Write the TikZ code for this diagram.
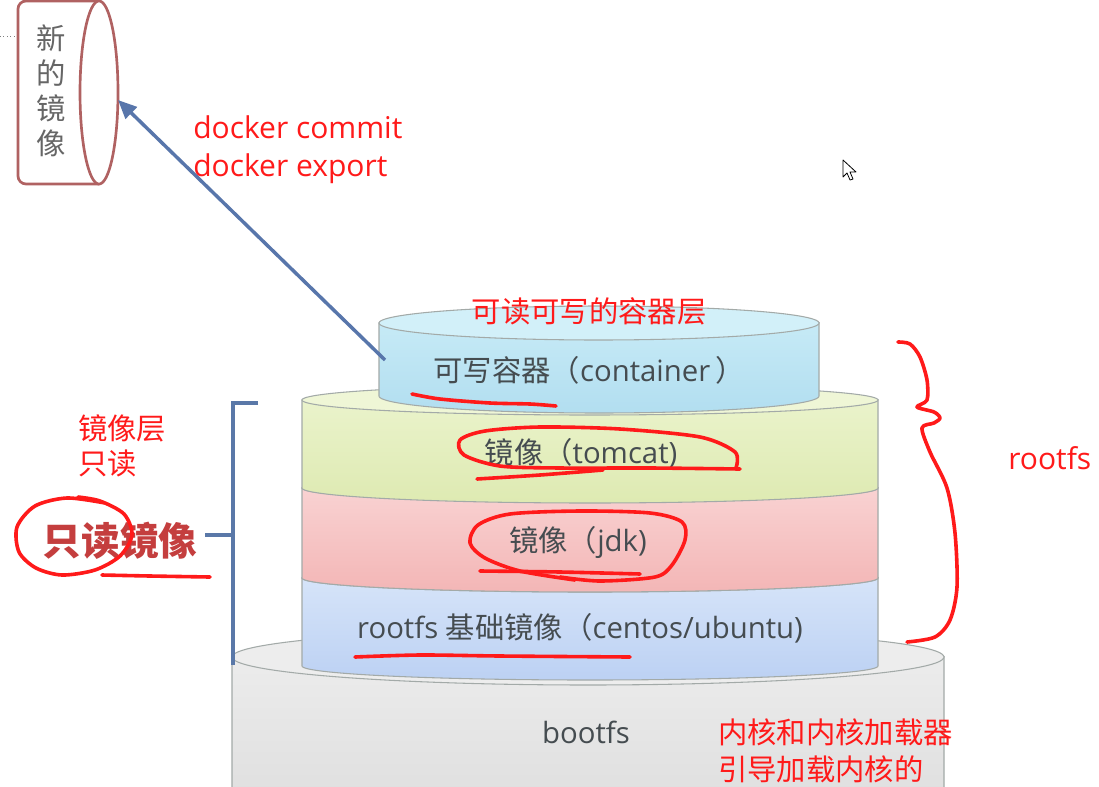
\documentclass[tikz,border=0pt]{standalone}
\usepackage{fontspec}
\setmainfont{Open Sans}
\newfontfamily\cjk{Noto Sans CJK SC}
\usetikzlibrary{arrows.meta}
\definecolor{redink}{HTML}{FF1A1A}
\definecolor{graytext}{HTML}{454C50}
\definecolor{edgecol}{HTML}{A3AAA8}
\definecolor{arrowblue}{HTML}{5876AB}
\definecolor{brackblue}{HTML}{5A78A8}
\definecolor{cylred}{HTML}{B06262}
\definecolor{boldred}{HTML}{C43E3E}
\newcommand\stacklayer[8]{%
  \definecolor{lyrtop}{HTML}{#6}%
  \definecolor{lyrbot}{HTML}{#7}%
  \definecolor{lyrell}{HTML}{#8}%
  \path[top color=lyrtop,bottom color=lyrbot,draw=edgecol,line width=0.8pt]
    ({#1-#2},#3) -- ({#1-#2},#4) -- plot[domain=0:180,samples=60] ({#1-#2*cos(\x)},{#4+#5*sin(\x)}) -- ({#1+#2},#3) -- cycle;
  \path[fill=lyrell,draw=edgecol,line width=0.8pt]
    plot[domain=0:360,samples=120] ({#1+#2*cos(\x)},{#3+#5*sin(\x)}) -- cycle;
}
\tikzset{
  lbl/.style={inner sep=0pt,text height=19.5pt,text depth=2.6pt},
  redlbl/.style={lbl,text=redink,font=\fontsize{22.5}{26}\selectfont},
  redcjk/.style={lbl,text=redink,font=\cjk\fontsize{22}{26}\selectfont},
  graylbl/.style={lbl,text=graytext,font=\fontsize{22}{26}\selectfont},
  ink/.style={draw=redink,line width=2.7pt,line cap=round,line join=round},
  arr/.style={draw=arrowblue,line width=2.6pt,-{Triangle[length=14pt,width=12pt]}},
  brack/.style={draw=brackblue,line width=2.8pt},
}
\begin{document}
\begin{tikzpicture}[x=0.75pt,y=-0.75pt]
\useasboundingbox (0,0) rectangle (1099,786);
\fill[white] (0,0) rectangle (1099,786);
\clip (0,0) rectangle (1099,786);

% stray dotted mark
\draw[gray,dotted,line width=0.6pt] (0,36) -- (16,36);

% new image cylinder
\path[fill=white,draw=cylred,line width=2pt,rounded corners=6]
  (99,1) -- (18,1) -- (18,184) -- (99,184);
\path[fill=white,draw=cylred,line width=2pt]
  plot[domain=0:360,samples=120] ({99+19*cos(\x)},{92.5+91.5*sin(\x)}) -- cycle;
\node[text=gray!80!black,font=\cjk\fontsize{22}{26.3}\selectfont,align=center,inner sep=0pt] (newimg) at (51,91) {新\\的\\镜\\像};

% layers
\stacklayer{588}{356}{657}{830}{28}{ECECEC}{DADADA}{EDEDED}
\stacklayer{590}{288}{578}{666}{14}{D6E4F9}{BCD1F3}{D6E4F9}
\stacklayer{590}{288}{488}{578}{14}{F9D2D2}{F3B6B6}{F9D2D2}
\stacklayer{590}{288}{400}{488}{15}{EAF3CB}{DEEAB2}{EFF6D6}
\stacklayer{599}{220}{323}{396}{17}{C6EAF6}{B2DEF0}{D2F0F9}

% arrow
\coordinate (contL) at (385,360);
\coordinate (newR) at (118,100);
\draw[arr] (contL) -- (newR);

% texts
\node[redlbl,anchor=west] (cmd1) at (193,127) {docker commit};
\node[redlbl,anchor=west] (cmd2) at (193,165) {docker export};
\node[redcjk] (rwlabel) at (589,311) {可读可写的容器层};
\node[graylbl] (conttext) at (589,370) {{\cjk 可写容器（}container\,{\cjk ）}};
\node[graylbl] (tomcattext) at (581,452) {{\cjk 镜像（}tomcat)};
\node[graylbl] (jdktext) at (578,540) {{\cjk 镜像（}jdk)};
\node[graylbl] (roottext) at (580,627) {rootfs {\cjk 基础镜像（}centos/ubuntu)};
\node[graylbl] (boottext) at (586,732) {bootfs};
\node[redcjk,anchor=west] (kern1) at (718,732) {内核和内核加载器};
\node[redcjk,anchor=west] (kern2) at (718,769) {引导加载内核的};
\node[redlbl,anchor=west] (rootfslabel) at (1008,458) {rootfs};
\node[redcjk,anchor=west] (layerlbl1) at (78,428) {镜像层};
\node[redcjk,anchor=west] (layerlbl2) at (78,463) {只读};
\node[text=boldred,font=\cjk\bfseries\fontsize{29}{34}\selectfont,inner sep=0pt] (readonly) at (120,541) {只读镜像};

% bracket
\draw[brack] (258,403) -- (233,403) -- (233,665);
\draw[brack] (205,535) -- (233,535);

% freehand red annotations
\draw[ink] plot[smooth] coordinates {(412,394) (440,399) (490,403) (530,404) (556,406)};
\draw[ink] plot[smooth] coordinates {(740,469) (650,468) (560,468) (500,466) (464,455) (460,440) (485,431) (540,427) (620,429) (700,437) (735,452) (736,468)};
\draw[ink] plot[smooth] coordinates {(477,479) (540,475) (603,470)};
\draw[ink] plot[smooth] coordinates {(575,580) (520,571) (485,558) (470,543) (478,525) (510,514) (580,511) (650,513) (682,522) (685,540) (672,565) (655,577) (600,581) (560,577)};
\draw[ink] plot[smooth] coordinates {(480,571) (560,572) (640,574)};
\draw[ink] plot[smooth] coordinates {(355,657) (420,655) (500,656) (630,657)};
\draw[ink] plot[smooth] coordinates {(105,503) (67,498) (35,506) (17,527) (19,552) (36,568) (62,575) (95,570) (120,556) (132,535) (124,514) (100,501) (78,497)};
\draw[ink] plot[smooth] coordinates {(102,575) (150,576) (210,577)};
\draw[ink] plot[smooth,tension=0.5] coordinates {(898,342) (910,344) (920,357) (927,380) (927,400) (917,407) (934,412) (940,418) (934,423) (922,428) (930,452) (947,488) (955,533) (957,587) (950,620) (935,637) (907,642)};

% mouse pointer
\draw[fill=white,line width=0.6pt,line join=round] (843,160) -- (843,177) -- (847,173) -- (850,180) -- (853,179) -- (850,172) -- (856,172) -- cycle;
\end{tikzpicture}
\end{document}
